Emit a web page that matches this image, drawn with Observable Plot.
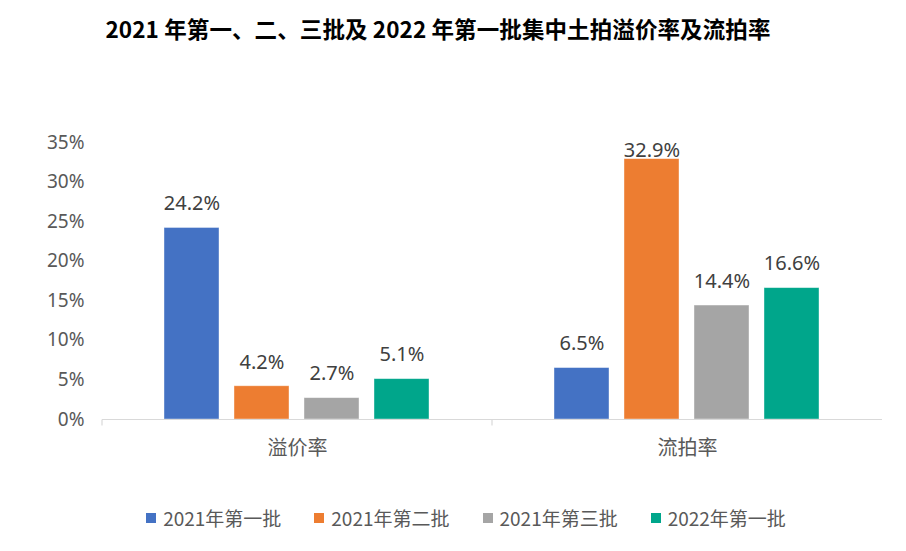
<!DOCTYPE html>
<html>
<head>
<meta charset="utf-8">
<script src="https://cdn.jsdelivr.net/npm/d3@7"></script>
<script src="https://cdn.jsdelivr.net/npm/@observablehq/plot@0.6"></script>
<style>
  html, body { margin: 0; padding: 0; background: #fff; }
  body { width: 906px; height: 551px; overflow: hidden; font-family: "Noto Sans", "Noto Sans CJK SC", sans-serif; }
  #title { height: 60px; line-height: 56px; text-align: center; padding-right: 30px; font-size: 22.5px; font-weight: bold; color: #000; font-family: "Noto Sans CJK SC", sans-serif; letter-spacing: 0.1px; }
  #legend { display: flex; justify-content: center; align-items: center; margin-top: 26px; padding-left: 26px; gap: 33px; font-size: 19px; line-height: 24px; color: #595959; font-family: "Noto Sans CJK SC", sans-serif; }
  #legend .item { display: flex; align-items: center; gap: 7px; }
  #legend .sw { width: 10px; height: 10px; display: inline-block; }
</style>
</head>
<body>
<div id="title">2021 年第一、二、三批及 2022 年第一批集中土拍溢价率及流拍率</div>
<div id="chart"></div>
<div id="legend"></div>
<script>
const categories = ["溢价率", "流拍率"];
const series = ["2021年第一批", "2021年第二批", "2021年第三批", "2022年第一批"];
const colors = ["#4472C4", "#ED7D31", "#A5A5A5", "#00A68B"];
const premiumRate = [24.2, 4.2, 2.7, 5.1];
const failRate = [6.5, 32.9, 14.4, 16.6];
const yTicks = [0, 5, 10, 15, 20, 25, 30, 35];

const data = [];
series.forEach((s, i) => {
  data.push({category: categories[0], series: s, value: premiumRate[i]});
  data.push({category: categories[1], series: s, value: failRate[i]});
});

const chart = Plot.plot({
  width: 906,
  height: 420,
  marginLeft: 101,
  marginRight: 24,
  marginTop: 82,
  marginBottom: 61,
  style: {fontFamily: '"Noto Sans", "Noto Sans CJK SC", sans-serif', background: "#fff"},
  fx: {domain: categories, padding: 0, label: null},
  x: {domain: series, paddingInner: 0.21, paddingOuter: 0.86, axis: null},
  y: {domain: [0, 35], ticks: yTicks, axis: null},
  color: {domain: series, range: colors},
  marks: [
    Plot.axisY({ticks: yTicks, tickFormat: d => d + "%", tickSize: 0, tickPadding: 18, fontSize: 19, fill: "#595959", label: null}),
    Plot.axisFx({anchor: "bottom", tickSize: 0, tickPadding: 21, fontSize: 20, fill: "#595959", label: null, fontFamily: '"Noto Sans CJK SC", sans-serif'}),
    Plot.barY(data, {fx: "category", x: "series", y: "value", fill: "series", stroke: "#ffffff", strokeOpacity: 0.5, strokeWidth: 0.8}),
    Plot.ruleY([0], {stroke: "#D9D9D9", strokeWidth: 1.2,
      render: (index, scales, values, dimensions, context, next) => {
        const g = next(index, scales, values, dimensions, context);
        const y0 = scales.y(0);
        const ns = "http://www.w3.org/2000/svg";
        const line = document.createElementNS(ns, "line");
        line.setAttribute("x1", dimensions.marginLeft);
        line.setAttribute("x2", dimensions.marginLeft);
        line.setAttribute("y1", y0);
        line.setAttribute("y2", y0 + 6);
        line.setAttribute("stroke", "#D9D9D9");
        line.setAttribute("stroke-width", 1.2);
        g.appendChild(line);
        return g;
      }}),
    Plot.text(data, {fx: "category", x: "series", y: d => Math.min(d.value + 3.05, 34.0), text: d => d.value.toFixed(1) + "%", fontSize: 20, fill: "#404040"})
  ]
});
document.getElementById("chart").appendChild(chart);

const legend = document.getElementById("legend");
series.forEach((s, i) => {
  const item = document.createElement("div");
  item.className = "item";
  const sw = document.createElement("span");
  sw.className = "sw";
  sw.style.background = colors[i];
  const t = document.createElement("span");
  t.textContent = s;
  item.appendChild(sw);
  item.appendChild(t);
  legend.appendChild(item);
});
</script>
</body>
</html>
